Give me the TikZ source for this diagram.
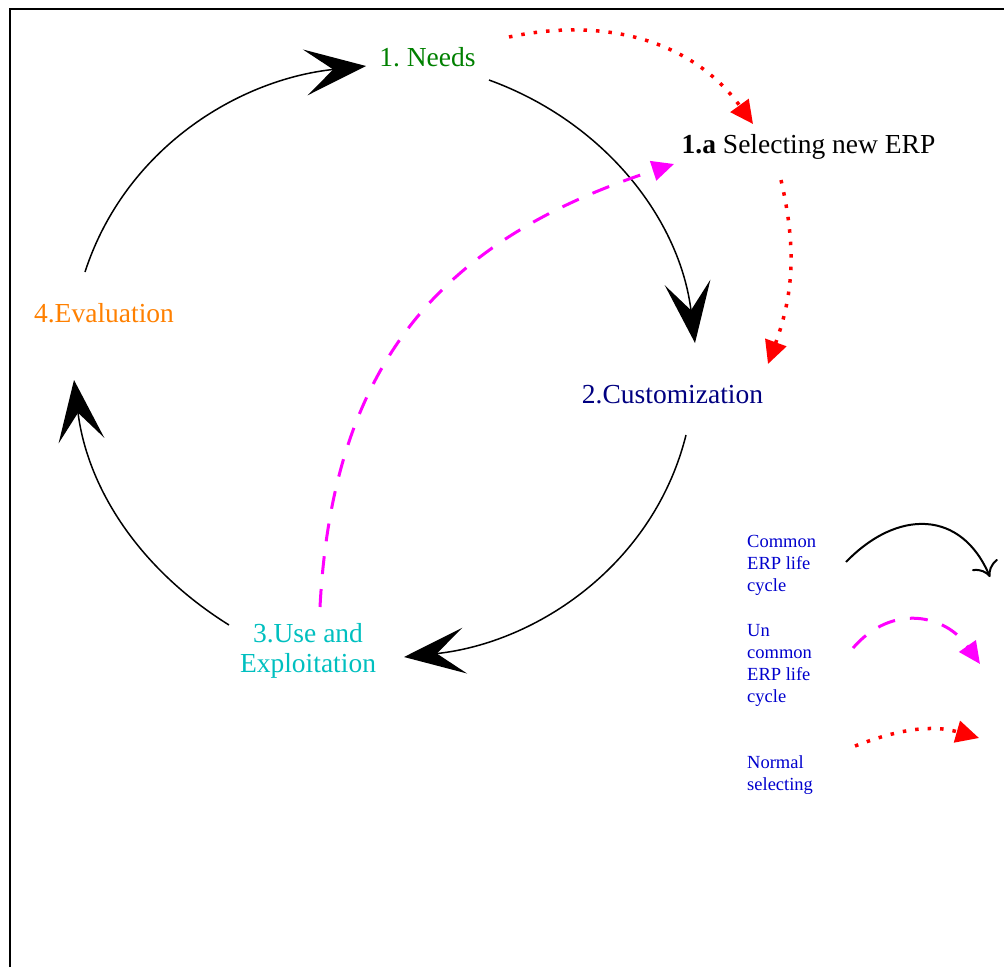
\documentclass[tikz,border=0pt]{standalone}
\usepackage{fontspec}
\setmainfont{Liberation Serif}
\usetikzlibrary{arrows.meta}
\definecolor{needsgreen}{RGB}{0,128,0}
\definecolor{custnavy}{RGB}{0,0,128}
\definecolor{usecyan}{RGB}{0,191,191}
\definecolor{evalorange}{RGB}{255,128,0}
\definecolor{legendblue}{RGB}{0,0,205}
\definecolor{pathmagenta}{RGB}{255,0,255}
\definecolor{pathred}{RGB}{255,0,0}
\begin{document}
\begin{tikzpicture}[x=1pt,y=1pt,
  stagetext/.style={inner sep=0pt, anchor=base, font=\fontsize{27.5}{30}\selectfont},
  legendtext/.style={inner sep=0pt, anchor=base west, align=left, text=legendblue,
    font=\fontsize{18.5}{22}\selectfont},
  cyclearc/.style={line width=1.5pt, -{Stealth[length=61pt,width=46pt,inset=28pt]}},
  uncommon/.style={pathmagenta, line width=3pt, dash pattern=on 18pt off 15pt,
    -{Triangle[length=22pt,width=20pt]}},
  normalsel/.style={pathred, line width=3.5pt, dash pattern=on 3.5pt off 9pt,
    -{Triangle[length=23pt,width=22pt]}},
  commonkey/.style={line width=2pt, -{To[length=14pt,width=28pt]}}]
\useasboundingbox (0,0) rectangle (1004,-967);

% frame
\draw[line width=2pt, line join=miter] (10,-967) -- (10,-9) -- (1004,-9);

% stages of the life cycle (multi-line nodes sit on their last baseline)
\node[stagetext, text=needsgreen] (needs) at (427.5,-66) {1.\ Needs};
\node[stagetext] (select) at (808.5,-153) {\textbf{1.a} Selecting new ERP};
\node[stagetext, text=custnavy] (cust) at (672.5,-403) {2.Customization};
\node[stagetext, text=usecyan, align=center] (use) at (308,-672) {3.Use and\\Exploitation};
\node[stagetext, text=evalorange] (eval) at (104,-322) {4.Evaluation};

% common cycle
\draw[cyclearc] ([shift={(61.5,-14)}]needs.base) to[out=-20,in=97,looseness=0.95] ([shift={(22.5,60)}]cust.base);
\draw[cyclearc] ([shift={(13.5,-32)}]cust.base) to[out=-104,in=6,looseness=0.95] ([shift={(96,15)}]use.base);
\draw[cyclearc] ([shift={(-79,47)}]use.base) to[out=148,in=-83,looseness=0.95] ([shift={(-30,-58)}]eval.base);
\draw[cyclearc] ([shift={(-19,50)}]eval.base) to[out=72,in=-174,looseness=0.95] ([shift={(-61.5,0)}]needs.base);

% uncommon path and normal selection
\draw[uncommon] ([shift={(12,65)}]use.base) to[out=87,in=198,looseness=1.1] ([shift={(-134.5,-11)}]select.base);
\draw[normalsel] ([shift={(81.5,29)}]needs.base) to[out=12,in=126] ([shift={(-55.5,29)}]select.base);
\draw[normalsel] ([shift={(-27.5,-27)}]select.base) to[out=-77,in=70] ([shift={(95.5,39)}]cust.base);

% legend
\node[legendtext] (lgcommon) at (747,-591) {Common\\ERP life\\cycle};
\node[legendtext] (lguncommon) at (747,-702) {Un\\common\\ERP life\\cycle};
\node[legendtext] (lgnormal) at (747,-790) {Normal\\selecting};

\coordinate (kcA) at (846,-562);
\coordinate (kcB) at (990,-577);
\coordinate (kuA) at (853,-648);
\coordinate (kuB) at (980,-664);
\coordinate (knA) at (855,-746);
\coordinate (knB) at (979,-738);
\draw[commonkey] (kcA) to[out=46,in=113,looseness=1.3] (kcB);
\draw[uncommon] (kuA) to[out=49,in=125,looseness=1.2] (kuB);
\draw[normalsel] (knA) to[out=21,in=164] (knB);
\end{tikzpicture}
\end{document}
